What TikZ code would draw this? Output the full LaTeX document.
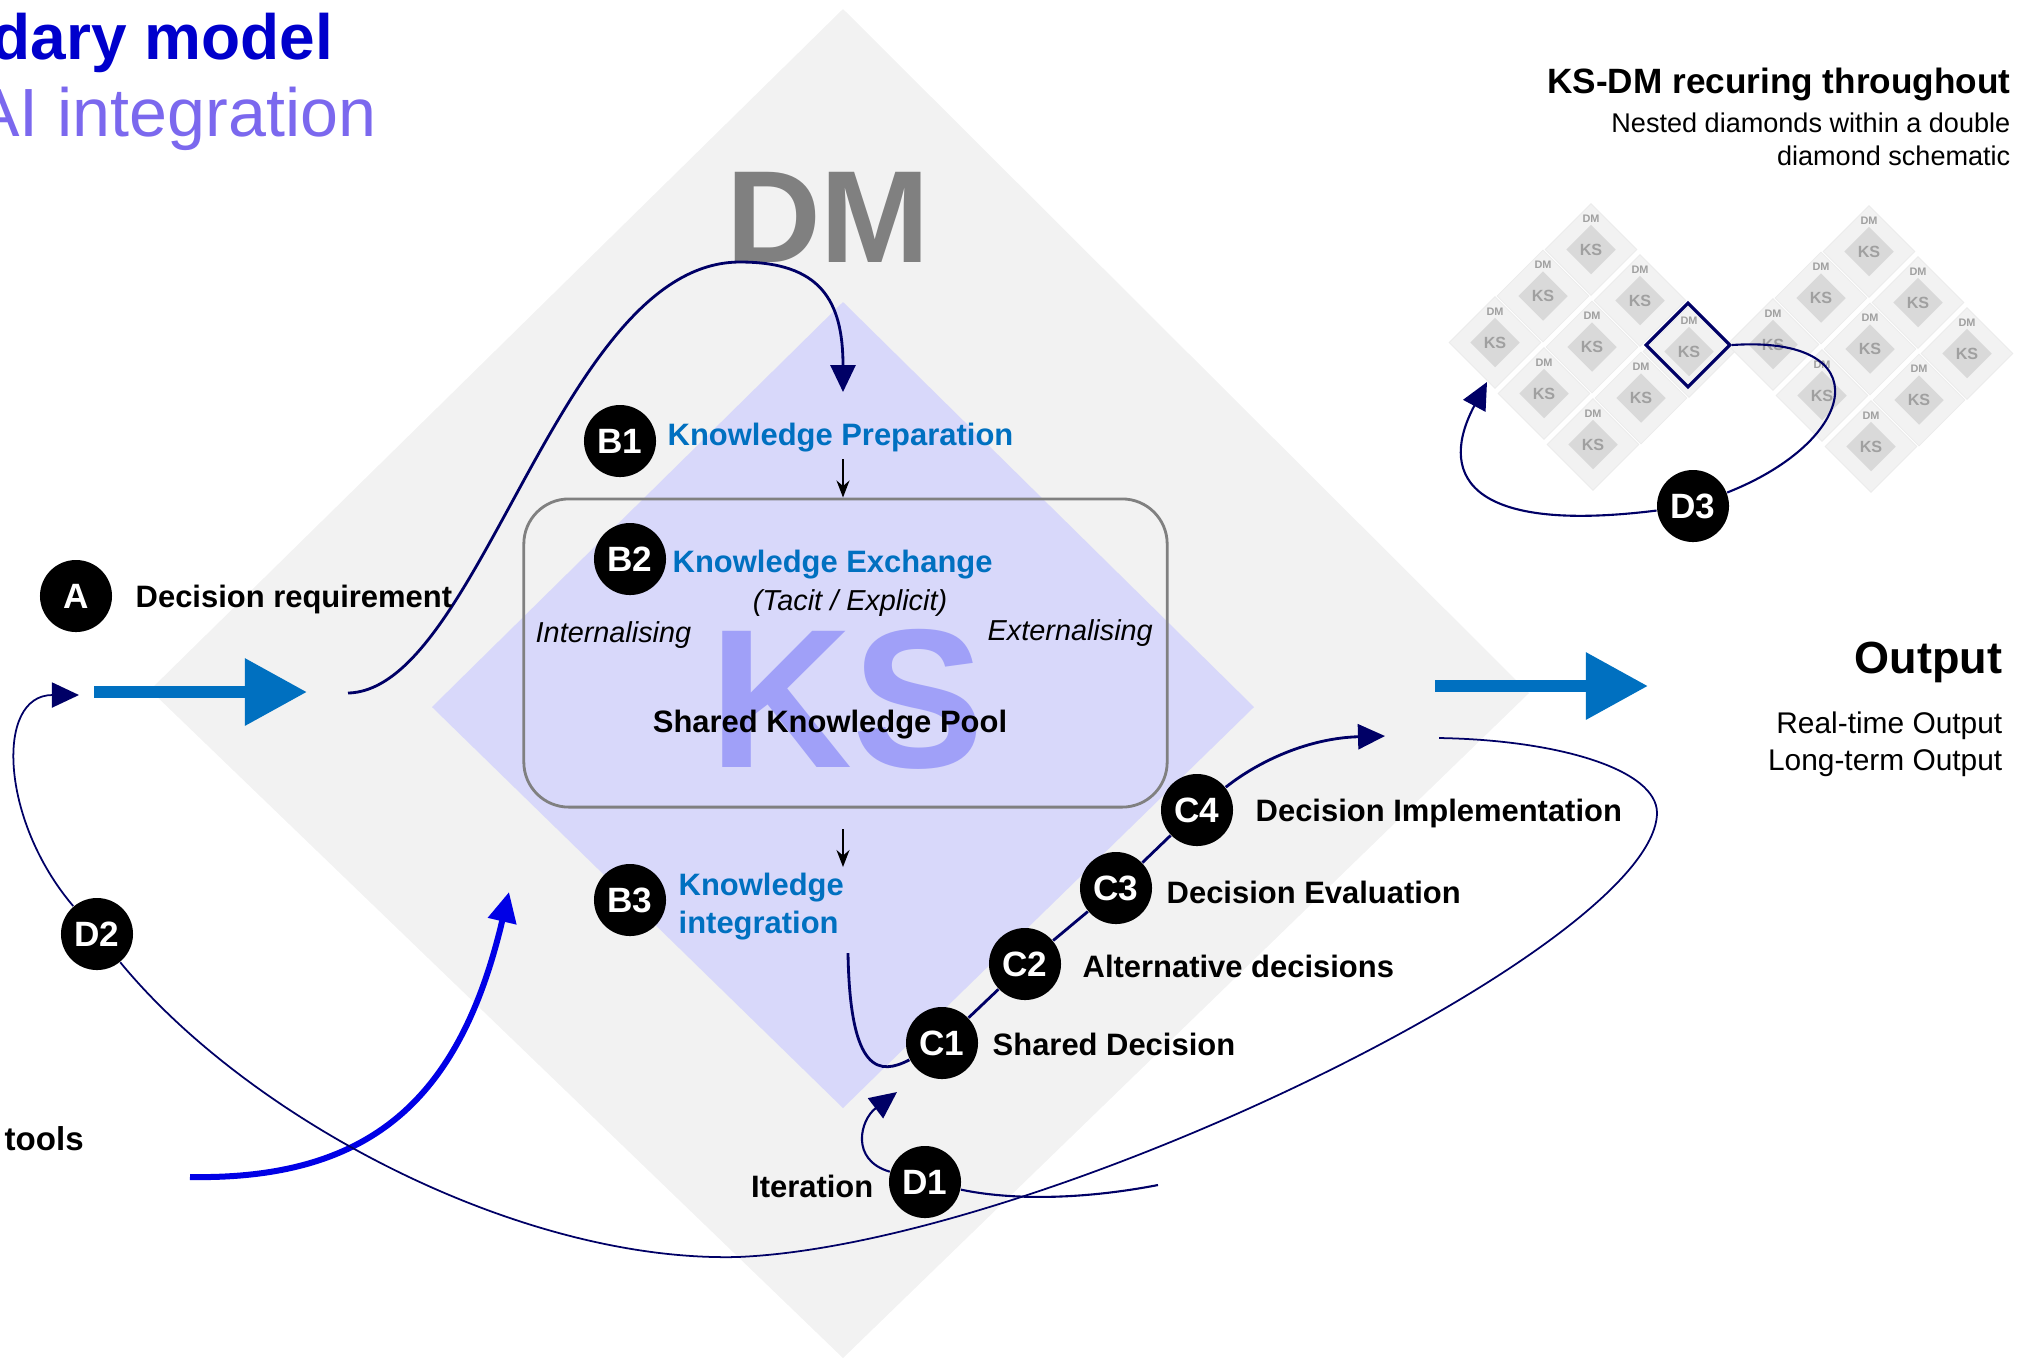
\documentclass[tikz,border=0pt]{standalone}
\usepackage{fontspec}
\setmainfont{Liberation Sans}
\usepackage{tikz}
\usetikzlibrary{arrows.meta,shapes.geometric,positioning,calc}

\definecolor{dmgrey}{RGB}{242,242,242}
\definecolor{kslav}{RGB}{216,216,250}
\definecolor{kstext}{RGB}{160,160,248}
\definecolor{navy}{RGB}{0,0,102}
\definecolor{flowblue}{RGB}{0,112,192}
\definecolor{toolblue}{RGB}{0,0,230}
\definecolor{titleblue}{RGB}{0,0,204}
\definecolor{titlepurple}{RGB}{123,104,238}
\definecolor{boxgrey}{RGB}{128,128,128}
\definecolor{minigrey}{RGB}{217,217,217}
\definecolor{minitext}{RGB}{160,160,160}

\tikzset{
  badge/.style={circle, fill=black, text=white, minimum size=0.72cm, inner sep=0pt,
    font=\fontsize{10}{12}\selectfont\bfseries},
  lbl/.style={inner sep=0pt, font=\fontsize{8.8}{10.8}\selectfont\bfseries},
  kslbl/.style={lbl, text=flowblue},
  itlbl/.style={inner sep=0pt, font=\fontsize{8.2}{10}\selectfont\itshape},
  navyline/.style={draw=navy, line width=0.6pt},
  navytip/.style={-{Triangle[length=0.27cm,width=0.25cm]}},
  bigflow/.style={draw=flowblue, line width=0.125cm, -{Triangle[length=0.62cm,width=0.64cm]}},
  blackstep/.style={draw=black, line width=0.45pt, -{Stealth[length=0.17cm,width=0.13cm]}},
  minidm/.style={diamond, fill=dmgrey, draw=black!8, line width=0.2pt, minimum width=0.92cm, minimum height=0.92cm, inner sep=0pt},
  minics/.style={diamond, fill=minigrey, minimum width=0.5cm, minimum height=0.5cm, inner sep=0pt,
    text=minitext, font=\fontsize{4.6}{5}\selectfont\bfseries},
  minilbl/.style={inner sep=0pt, text=minitext, font=\fontsize{3.1}{4}\selectfont\bfseries},
}

\begin{document}
\begin{tikzpicture}[x=0.01cm, y=-0.01cm]
\useasboundingbox (0,0) rectangle (2033,1359);

% DM and KS diamonds
\fill[dmgrey] (843,9) -- (1529,693) -- (843,1358) -- (150,690) -- cycle;
\fill[kslav] (843,302) -- (1254,707) -- (843,1108) -- (432,707) -- cycle;
\node[anchor=base, inner sep=0pt, text=gray, font=\fontsize{37.3}{40}\selectfont\bfseries] (dm) at (828,262) {DM};
\node[anchor=base, inner sep=0pt, text=kstext, font=\fontsize{56.3}{60}\selectfont\bfseries] (ks) at (847,767) {KS};
\node[draw=boxgrey, line width=0.8pt, rounded corners=0.45cm, minimum width=6.43cm, minimum height=3.08cm] (kbox) at (845.5,653) {};

% titles
\node[anchor=base east, inner sep=0pt, text=titleblue, font=\fontsize{18.2}{20}\selectfont\bfseries] (title) at (334,59) {dary model};
\node[anchor=base east, inner sep=0pt, text=titlepurple, font=\fontsize{19.4}{22}\selectfont] (subtitle) at (377,136) {AI integration};

% nested diamonds
\foreach \cx/\cy [count=\k] in {1592/347, 1870/349}{
  \foreach \i in {0,1,2}{
    \foreach \j in {0,1,2}{
      \node[minidm] (mini\k\i\j) at ({\cx+49*(\i-1)-48*(\j-1)},{\cy+51*(\i-1)+46.5*(\j-1)}) {};
      \node[minics] (ks\k\i\j) at (mini\k\i\j) {KS};
      \node[minilbl] (dm\k\i\j) at ($(mini\k\i\j)+(0,-31)$) {DM};
    }
  }
}
\node[diamond, draw=navy, line width=0.9pt, minimum width=0.85cm, minimum height=0.85cm, inner sep=0pt] (focus) at (1688,345) {};

% header texts
\node[anchor=base east, inner sep=0pt, font=\fontsize{10}{12}\selectfont\bfseries] (kshead) at (2011,93) {KS-DM recuring throughout};
\node[anchor=north east, inner sep=0pt, align=right, font=\fontsize{7.7}{9.4}\selectfont] (ksnote) at (2011,112) {Nested diamonds within a double\\diamond schematic};
\node[anchor=base east, inner sep=0pt, font=\fontsize{12.8}{14}\selectfont\bfseries] (outt) at (2003,673) {Output};
\node[anchor=north east, inner sep=0pt, align=right, font=\fontsize{8.5}{10.5}\selectfont] (outnote) at (2003,711) {Real-time Output\\Long-term Output};

% flow arrows
\coordinate (ain) at (94,692);
\coordinate (aout) at (307,692);
\draw[bigflow] (ain) -- (aout);
\coordinate (oin) at (1435,686);
\coordinate (oout) at (1648,686);
\draw[bigflow] (oin) -- (oout);

\coordinate (tooltail) at (190,1177);
\coordinate (tooltip) at (509,892);
\draw[toolblue, line width=0.06cm, -{Triangle[length=0.3cm,width=0.28cm]}] (tooltail) .. controls (370,1180) and (460,1100) .. (tooltip);

% badges
\node[badge] (a) at (76,596) {A};
\node[badge] (b1) at (620,441) {B1};
\node[badge] (b2) at (630,559) {B2};
\node[badge] (b3) at (630,900) {B3};
\node[badge] (c1) at (942,1043) {C1};
\node[badge] (c2) at (1025,964) {C2};
\node[badge] (c3) at (1116,888) {C3};
\node[badge] (c4) at (1197,810) {C4};
\node[badge] (d1) at (925,1182) {D1};
\node[badge] (d2) at (97,934) {D2};
\node[badge] (d3) at (1693,506) {D3};

% connectors
\coordinate (kin) at (348,693);
\coordinate (kprep) at (843,392);
\draw[navyline, line width=0.8pt, navytip] (kin) .. controls (480,690) and (560,262) .. (740,262) .. controls (820,262) and (843,300) .. (kprep);
\coordinate (s1) at (843,459);
\draw[blackstep] (s1) -- (kbox.north -| s1);
\coordinate (s3) at (843,829);
\coordinate (s4) at (843,867);
\draw[blackstep] (s3) -- (s4);
\coordinate (kint) at (848,953);
\draw[navyline, line width=0.8pt] (kint) .. controls (850,1075) and (880,1075) .. (c1);
\draw[navyline, line width=0.8pt] (c1) -- (c2) -- (c3) -- (c4);
\coordinate (cimpl) at (1385,736);
\draw[navyline, line width=0.8pt, navytip] (c4) .. controls (1260,760) and (1310,738) .. (cimpl);

\coordinate (iterin) at (1158,1185);
\coordinate (itertip) at (897,1092);
\draw[navyline] (iterin) .. controls (1080,1200) and (1010,1200) .. (d1);
\draw[navyline, navytip] (d1) .. controls (850,1160) and (860,1120) .. (itertip);

\coordinate (feedin) at (1439,738);
\coordinate (intip) at (79,695);
\draw[navyline, line width=0.5pt] (feedin) .. controls (1560,740) and (1657,770) .. (1657,813) .. controls (1655,945) and (1040,1245) .. (737,1257) .. controls (520,1262) and (250,1120) .. (d2);
\draw[navyline, line width=0.5pt, navytip] (d2) .. controls (0,820) and (-5,695) .. (intip);

\coordinate (dmtip) at (1487,382);
\draw[navyline] (focus.east) .. controls (1880,335) and (1860,440) .. (d3);
\draw[navyline, navytip] (d3) .. controls (1460,535) and (1440,470) .. (dmtip);

% labels
\node[lbl, anchor=base west] (areq) at (135,607) {Decision requirement};
\node[kslbl, anchor=base west] (b1t) at (667,445) {Knowledge Preparation};
\node[kslbl, anchor=base west] (b2t) at (672,572) {Knowledge Exchange};
\node[kslbl, anchor=north west, align=left] (b3t) at (678,872) {Knowledge\\integration};
\node[itlbl, anchor=base] (tacit) at (850,610) {(Tacit / Explicit)};
\node[itlbl, anchor=base west] (intl) at (535,642) {Internalising};
\node[itlbl, anchor=base west] (extl) at (987,640) {Externalising};
\node[lbl, anchor=base] (pool) at (830,732) {Shared Knowledge Pool};
\node[lbl, anchor=base west] (c1t) at (992,1055) {Shared Decision};
\node[lbl, anchor=base west] (c2t) at (1082,977) {Alternative decisions};
\node[lbl, anchor=base west] (c3t) at (1166,903) {Decision Evaluation};
\node[lbl, anchor=base west] (c4t) at (1255,821) {Decision Implementation};
\node[lbl, anchor=base east] (d1t) at (874,1197) {Iteration};
\node[lbl, anchor=base west, font=\fontsize{9.4}{11}\selectfont\bfseries] (toolst) at (4,1150) {tools};
\end{tikzpicture}
\end{document}
